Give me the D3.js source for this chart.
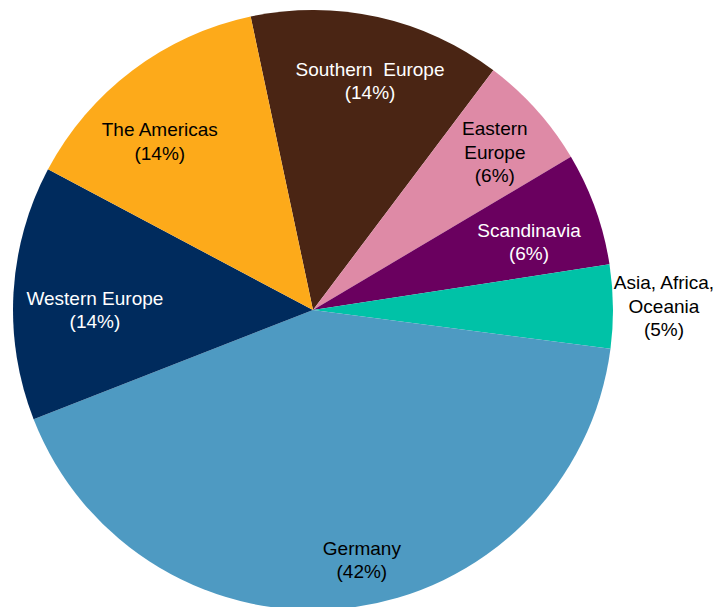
<!DOCTYPE html>
<html>
<head>
<meta charset="utf-8">
<script src="https://cdn.jsdelivr.net/npm/d3@7"></script>
<style>
  html, body { margin: 0; padding: 0; background: #fff; }
  svg { display: block; }
</style>
</head>
<body>
<svg id="chart" width="720" height="607"></svg>
<script>
const categories = ["Southern Europe", "Eastern Europe", "Scandinavia", "Asia, Africa, Oceania", "Germany", "Western Europe", "The Americas"];
const values = [13.6, 6.2, 6.1, 4.5, 42.0, 13.7, 13.9];
const percentLabels = ["14%", "6%", "6%", "5%", "42%", "14%", "14%"];
const labelLines = [["Southern  Europe"], ["Eastern", "Europe"], ["Scandinavia"], ["Asia, Africa,", "Oceania"], ["Germany"], ["Western Europe"], ["The Americas"]];
const colors = ["#4a2514", "#de8aa6", "#6a005f", "#00c2a7", "#4e9ac2", "#002b5d", "#fdaa1a"];
const textColors = ["#ffffff", "#000000", "#ffffff", "#000000", "#000000", "#ffffff", "#000000"];

// label layout (radius as fraction of pie radius, angular shift in degrees)
const labelRadius = [0.787, 0.803, 0.755, 1.17, 0.849, 0.727, 0.76];
const labelShift = [1.5, 0.9, 2.2, 0, -4.1, -3.3, -5.2];

const svg = d3.select("#chart");
const cx = 313, cy = 310, R = 300;
const g = svg.append("g").attr("transform", `translate(${cx},${cy})`);

const data = categories.map((c, i) => ({ name: c, value: values[i], i }));
const pie = d3.pie().value(d => d.value).sort(null)
  .startAngle(-12 * Math.PI / 180).endAngle(2 * Math.PI - 12 * Math.PI / 180);
const arcs = pie(data);
const arc = d3.arc().innerRadius(0).outerRadius(R);

g.selectAll("path.slice").data(arcs).enter().append("path")
  .attr("class", "slice")
  .attr("d", arc)
  .attr("fill", d => colors[d.data.i]);

const lineH = 23.5;

arcs.forEach(d => {
  const i = d.data.i;
  const a = (d.startAngle + d.endAngle) / 2 + labelShift[i] * Math.PI / 180;
  const r = R * labelRadius[i];
  const x = r * Math.sin(a), y = -r * Math.cos(a);
  const lines = labelLines[i].concat(["(" + percentLabels[i] + ")"]);
  const y0 = y - (lines.length - 1) * lineH / 2;
  const t = g.append("text")
    .attr("text-anchor", "middle")
    .attr("font-family", "'Liberation Sans', Arial, sans-serif")
    .attr("font-size", 19)
    .attr("fill", textColors[i]);
  lines.forEach((ln, k) => {
    t.append("tspan").attr("x", x).attr("y", y0 + k * lineH).attr("dy", "0.35em").attr("xml:space", "preserve").text(ln);
  });
});
</script>
</body>
</html>
